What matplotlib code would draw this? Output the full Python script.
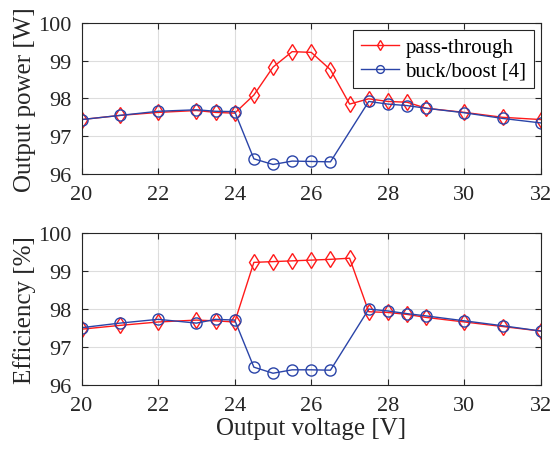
import matplotlib
matplotlib.use("Agg")
import matplotlib.pyplot as plt

plt.rcParams["font.family"] = ["Liberation Serif", "DejaVu Serif"]
plt.rcParams["mathtext.fontset"] = "stix"

# Output voltage [V]
v_pass = [20, 21, 22, 23, 23.5, 24, 24.5, 25, 25.5, 26, 26.5, 27, 27.5, 28, 28.5, 29, 30, 31, 32]
v_buck = [20, 21, 22, 23, 23.5, 24, 24.5, 25, 25.5, 26, 26.5, 27.5, 28, 28.5, 29, 30, 31, 32]

# Output power [W]
p_pass = [97.44, 97.55, 97.63, 97.68, 97.63, 97.61, 98.09, 98.83, 99.24, 99.22, 98.76,
          97.85, 97.99, 97.92, 97.90, 97.74, 97.63, 97.50, 97.44]
p_buck = [97.44, 97.55, 97.66, 97.70, 97.66, 97.65, 96.40, 96.25, 96.34, 96.33, 96.32,
          97.92, 97.85, 97.81, 97.74, 97.62, 97.47, 97.35]

# Efficiency [%]
e_pass = [97.47, 97.57, 97.66, 97.71, 97.69, 97.66, 99.23, 99.25, 99.27, 99.29, 99.31,
          99.34, 97.93, 97.91, 97.86, 97.78, 97.66, 97.54, 97.42]
e_buck = [97.51, 97.63, 97.73, 97.63, 97.73, 97.71, 96.47, 96.31, 96.40, 96.40, 96.39,
          98.00, 97.95, 97.88, 97.82, 97.69, 97.56, 97.42]

RED = "#ff1a1a"
BLUE = "#2a44a8"
AXC = "#262626"


def style_axes(ax):
    ax.set_xlim(20, 32)
    ax.set_ylim(96, 100)
    ax.set_xticks(range(20, 33, 2))
    ax.set_yticks(range(96, 101))
    ax.grid(True, color="#dddddd", linewidth=0.8)
    ax.set_axisbelow(True)
    ax.tick_params(direction="in", length=4, labelsize=16, colors=AXC,
                   top=True, right=True)
    ax.tick_params(axis="x", pad=8)
    ax.tick_params(axis="y", pad=7)
    for s in ax.spines.values():
        s.set_color(AXC)
        s.set_linewidth(0.8)


fig = plt.figure(figsize=(5.51, 4.52), dpi=100)
ax1 = fig.add_axes([0.148, 0.613, 0.834, 0.334])
ax2 = fig.add_axes([0.148, 0.146, 0.834, 0.336])

for ax, yp, yb in [(ax1, p_pass, p_buck), (ax2, e_pass, e_buck)]:
    ax.plot(v_pass, yp, color=RED, marker="d", markersize=8, markerfacecolor="none",
            markeredgewidth=1.0, linewidth=1.0, label="pass-through")
    ax.plot(v_buck, yb, color=BLUE, marker="o", markersize=8, markerfacecolor="none",
            markeredgewidth=1.0, linewidth=1.0, label="buck/boost [4]")
    style_axes(ax)

ax1.set_ylabel("Output power [W]", fontsize=18, color=AXC, labelpad=2)
ax2.set_ylabel("Efficiency [%]", fontsize=18, color=AXC, labelpad=2)
ax2.set_xlabel("Output voltage [V]", fontsize=18, color=AXC, labelpad=1)

leg = ax1.legend(loc="upper right", fontsize=15, fancybox=False, framealpha=1,
                 edgecolor=AXC, borderaxespad=0.35, handlelength=1.85,
                 borderpad=0.35, labelspacing=0.2, handletextpad=0.3,
                 markerscale=0.7)
leg.get_frame().set_linewidth(0.8)

fig.savefig("out.png", dpi=100)
